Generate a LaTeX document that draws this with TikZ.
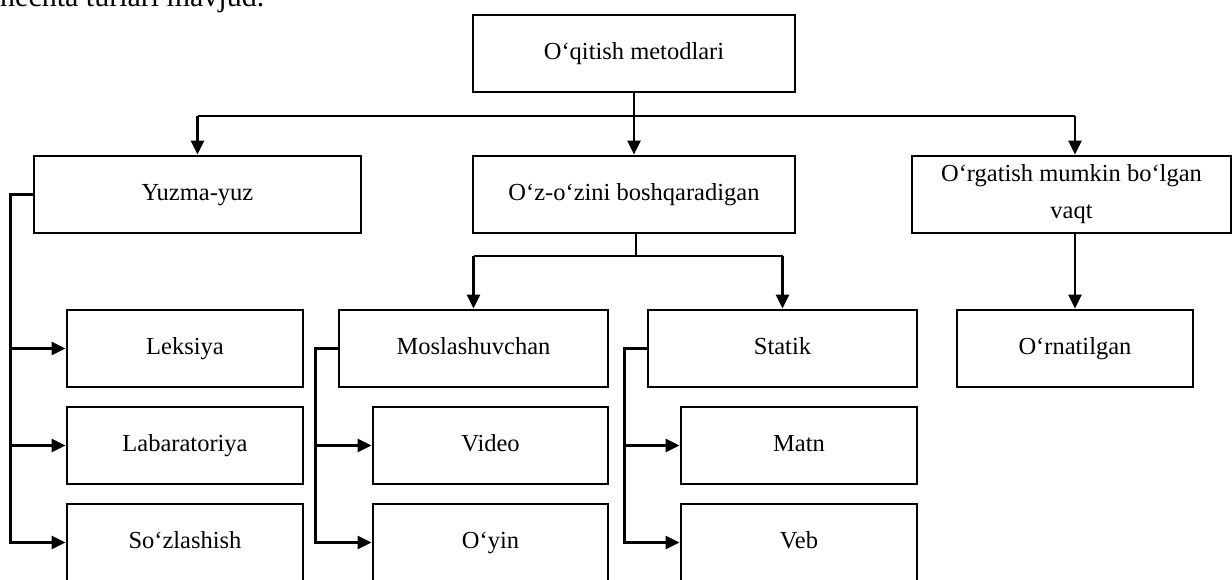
\documentclass[tikz,border=0pt]{standalone}
\usepackage{fontspec}
\setmainfont{Liberation Serif}
\usetikzlibrary{arrows.meta}
\begin{document}
\begin{tikzpicture}[x=1pt,y=-1pt,
  frame/.style={draw=black,line width=2.8pt,rectangle,minimum height=77pt,
    inner sep=0pt,align=center,font=\fontsize{24.5}{28}\selectfont},
  box/.style={frame,text height=17pt,text depth=6pt},
  wire/.style={line width=2.8pt},
  arr/.style={line width=2.8pt,-{Triangle[length=14pt,width=13pt]}}]
\useasboundingbox (0,0) rectangle (1232,579);
\clip (0,0) rectangle (1232,579);

% running text above the chart
\node[anchor=base west,inner sep=0pt,font=\fontsize{30}{34}\selectfont] (intro) at (0,6) {nechta turlari mavjud.};

% level 0
\node[box,minimum width=322pt] (top) at (634,53.5) {O‘qitish metodlari};

% level 1
\node[box,minimum width=327pt] (yuz) at (197.5,194.5) {Yuzma-yuz};
\node[box,minimum width=322pt] (ozo) at (634,194.5) {O‘z-o‘zini boshqaradigan};
\node[frame,minimum width=319pt,font=\fontsize{24.5}{37}\selectfont] (org) at (1071.5,194.5) {O‘rgatish mumkin bo‘lgan\\vaqt};

% level 2
\node[box,minimum width=269pt] (mos) at (473.5,348.5) {Moslashuvchan};
\node[box,minimum width=269pt] (sta) at (782.5,348.5) {Statik};
\node[box,minimum width=236pt] (orn) at (1075,348.5) {O‘rnatilgan};

% leaves
\node[box,minimum width=236pt] (lek) at (185,348.5) {Leksiya};
\node[box,minimum width=236pt] (lab) at (185,445.5) {Labaratoriya};
\node[box,minimum width=236pt] (soz) at (185,542.5) {So‘zlashish};
\node[box,minimum width=235pt] (vid) at (490.5,445.5) {Video};
\node[box,minimum width=235pt] (oyin) at (490.5,542.5) {O‘yin};
\node[box,minimum width=236pt] (matn) at (799,445.5) {Matn};
\node[box,minimum width=236pt] (veb) at (799,542.5) {Veb};

% bus below the root
\coordinate (bus) at (634,116);
\draw[wire] (top.south) -- (bus);
\draw[wire] (bus -| yuz.north) -- (bus -| orn.north);
\draw[arr] (bus -| yuz.north) -- (yuz.north);
\draw[arr] (bus) -- (ozo.north);
\draw[arr] (bus -| orn.north) -- (org.north -| orn.north);

% self-paced branch
\coordinate (sub) at (636,256);
\draw[wire] (ozo.south -| sub) -- (sub);
\draw[wire] (sub -| mos.north) -- (sub -| sta.north);
\draw[arr] (sub -| mos.north) -- (mos.north);
\draw[arr] (sub -| sta.north) -- (sta.north);

% scheduled branch
\draw[arr] (org.south -| orn.north) -- (orn.north);

% side spines to the leaves
\draw[arr] (yuz.west) -- ++(-22,0) |- (lek.west);
\draw[arr] (yuz.west) -- ++(-22,0) |- (lab.west);
\draw[arr] (yuz.west) -- ++(-22,0) |- (soz.west);
\draw[arr] (mos.west) -- ++(-22,0) |- (vid.west);
\draw[arr] (mos.west) -- ++(-22,0) |- (oyin.west);
\draw[arr] (sta.west) -- ++(-22,0) |- (matn.west);
\draw[arr] (sta.west) -- ++(-22,0) |- (veb.west);
\end{tikzpicture}
\end{document}
